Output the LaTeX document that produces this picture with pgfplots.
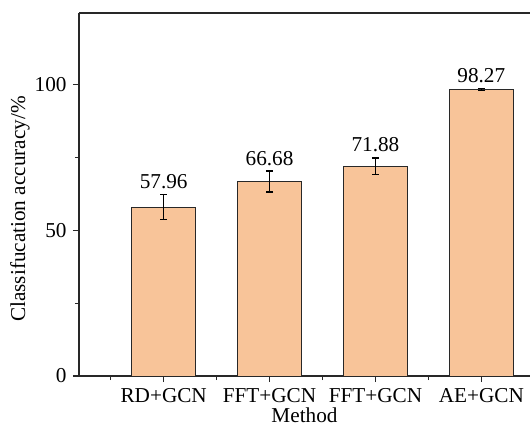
\documentclass[border=0pt]{standalone}
\usepackage{fontspec}
\setmainfont{Liberation Serif}
\usepackage{pgfplots}
\pgfplotsset{compat=1.18}
\definecolor{barfill}{RGB}{248,196,153}
\definecolor{edge}{RGB}{40,40,40}
\begin{document}
\begin{tikzpicture}
\begin{axis}[
  scale only axis, width=451bp, height=363bp,
  xmin=0.2, xmax=4.46, ymin=0, ymax=124.5,
  axis x line*=box, axis y line*=left,
  axis line style={line width=1.2bp, color=edge},
  tick align=outside, major tick length=6bp, minor tick length=4bp,
  every tick/.style={line width=1.2bp, color=edge},
  xtick={1,2,3,4}, xticklabels={RD+GCN,FFT+GCN,FFT+GCN,AE+GCN},
  minor xtick={0.5,1.5,2.5,3.5},
  ytick={0,50,100}, minor ytick={25,75},
  xtick pos=bottom, ytick pos=left,
  font=\fontsize{21.3}{25}\selectfont,
  /pgf/number format/assume math mode=true,
  xticklabel style={yshift=-3bp},
  yticklabel style={xshift=-3bp},
  ylabel={Classifucation accuracy/\%},
  ylabel style={at={(ticklabel cs:0.46)}, yshift=-2bp},
  xlabel={Method},
  xlabel style={yshift=2bp},
]
\addplot[ybar, bar width=0.6, fill=barfill, draw=edge, line width=1bp,
  error bars/.cd, y dir=both, y explicit,
  error bar style={line width=1.2bp, color=black},
  error mark options={rotate=90, mark size=3.5bp, line width=1.2bp, color=black}]
  coordinates {(1,57.96) +- (0,4.4) (2,66.68) +- (0,3.6) (3,71.88) +- (0,2.9) (4,98.27) +- (0,0.3)};
\addplot[only marks, mark=*, mark size=0pt, mark options={draw=none, fill=none},
  nodes near coords, point meta=explicit symbolic,
  every node near coord/.append style={anchor=south, inner sep=0pt, yshift=5.5bp, text=black}]
  coordinates {(1,62.36)[57.96] (2,70.28)[66.68] (3,74.78)[71.88] (4,98.57)[98.27]};
\end{axis}
\pgfresetboundingbox
\path[use as bounding box] (-79bp,-52bp) rectangle (451bp,376bp);
\end{tikzpicture}
\end{document}
